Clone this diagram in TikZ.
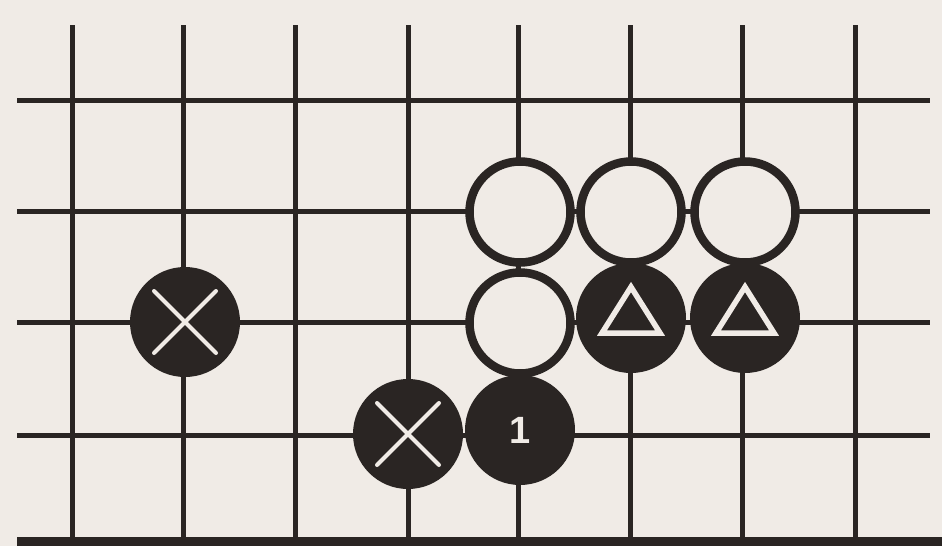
\documentclass[tikz,border=0pt]{standalone}
\usepackage{fontspec}
\setsansfont{Liberation Sans}
\definecolor{paper}{HTML}{F0EBE6}
\definecolor{ink}{HTML}{2A2523}
\begin{document}
\begin{tikzpicture}[x=1pt,y=-1pt,
  gridline/.style={ink,line width=5pt},
  edgeline/.style={ink,line width=9pt},
  blackstone/.style={circle,fill=ink,draw=none,minimum size=110pt,inner sep=0pt},
  whitestone/.style={circle,fill=paper,draw=ink,line width=8.5pt,minimum size=101pt,inner sep=0pt},
  xmark/.style={paper,line width=4pt,line cap=round},
  trimark/.style={paper,line width=5.5pt,line join=miter},
  numlabel/.style={text=paper,font=\sffamily\bfseries\fontsize{38}{38}\selectfont}]
\fill[paper] (0,0) rectangle (942,546);
\useasboundingbox (0,0) rectangle (942,546);
% grid
\foreach \x in {72,183,295,408,518,630,742,855}
  \draw[gridline] (\x,25) -- (\x,540);
\foreach \y in {100,211,322,435}
  \draw[gridline] (17,\y) -- (930,\y);
\draw[edgeline] (17,541.5) -- (942,541.5);
% white stones
\node[whitestone] (w1) at (520,212) {};
\node[whitestone] (w2) at (631,212) {};
\node[whitestone] (w3) at (745,212) {};
\node[whitestone] (w4) at (520,323) {};
% black stones
\node[blackstone] (bx1) at (185,322) {};
\node[blackstone] (bx2) at (408,434) {};
\node[blackstone] (b1) at (520,430) {};
\node[blackstone] (bt1) at (631,318) {};
\node[blackstone] (bt2) at (745,318) {};
% marks
\draw[xmark] ([shift={(-31,-31)}]bx1.center) -- ([shift={(31,31)}]bx1.center);
\draw[xmark] ([shift={(-31,31)}]bx1.center) -- ([shift={(31,-31)}]bx1.center);
\draw[xmark] ([shift={(-31,-31)}]bx2.center) -- ([shift={(31,31)}]bx2.center);
\draw[xmark] ([shift={(-31,31)}]bx2.center) -- ([shift={(31,-31)}]bx2.center);
\draw[trimark] ([shift={(0,-31)}]bt1.center) -- ([shift={(29,15)}]bt1.center) -- ([shift={(-29,15)}]bt1.center) -- cycle;
\draw[trimark] ([shift={(0,-31)}]bt2.center) -- ([shift={(29,15)}]bt2.center) -- ([shift={(-29,15)}]bt2.center) -- cycle;
\node[numlabel] (n1) at (b1.center) {1};
\end{tikzpicture}
\end{document}
